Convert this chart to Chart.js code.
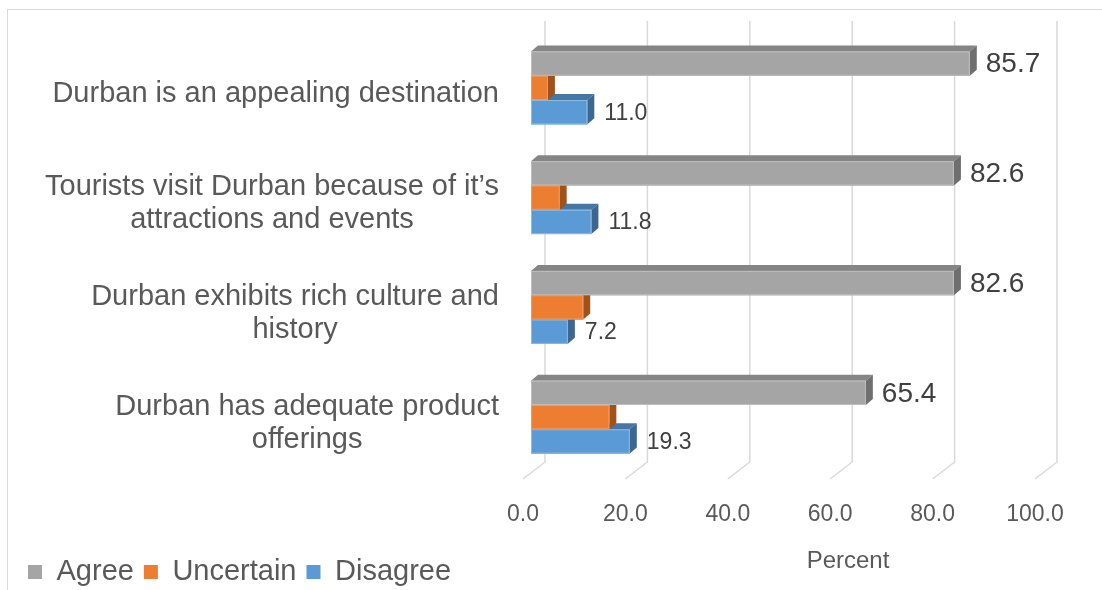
<!DOCTYPE html>
<html>
<head>
<meta charset="utf-8">
<title>Durban perceptions</title>
<script src="https://cdn.jsdelivr.net/npm/chart.js@4.4.1/dist/chart.umd.min.js"></script>
<style>
  html, body { margin: 0; padding: 0; background: #fff; }
  #wrap { position: relative; width: 1102px; height: 590px; }
</style>
</head>
<body>
<div id="wrap"><canvas id="survey" width="1102" height="590"></canvas></div>
<script>
// data
const categories = [
  ['Durban is an appealing destination'],
  ['Tourists visit Durban because of it\u2019s', 'attractions and events'],
  ['Durban exhibits rich culture and', 'history'],
  ['Durban has adequate product', 'offerings']
];
const agree = [85.7, 82.6, 82.6, 65.4];
const uncertain = [3.3, 5.6, 10.2, 15.3];
const disagree = [11.0, 11.8, 7.2, 19.3];
const xTicks = [0, 20, 40, 60, 80, 100];

const FONT = "Arial, 'Liberation Sans', sans-serif";
const DX = 7, DY = -6;   // depth of the 3d bars

// front / top / side colours per series
const faces = [
  {front: '#A5A5A5', top: '#858585', side: '#6F6F6F', edge: '#BEBEBE'},
  {front: '#ED7D31', top: '#B65F25', side: '#A0521D', edge: '#F29B60'},
  {front: '#5B9BD5', top: '#4676A4', side: '#3D6791', edge: '#8DB9E2'}
];

const threeD = {
  id: 'threeD',
  beforeDatasetsDraw(chart) {
    const ctx = chart.ctx, xs = chart.scales.x, ca = chart.chartArea;
    ctx.save();
    // outer border of the chart box
    ctx.strokeStyle = '#D9D9D9';
    ctx.lineWidth = 1;
    ctx.strokeRect(7.5, 9.5, 3000, 3000);
    // back wall + floor grid lines
    ctx.strokeStyle = '#D9D9D9';
    ctx.lineWidth = 1.5;
    xTicks.forEach(v => {
      const px = xs.getPixelForValue(v);
      ctx.beginPath();
      ctx.moveTo(px + 14, ca.top - 12);
      ctx.lineTo(px + 14, ca.bottom - 10);
      ctx.lineTo(px - 8, ca.bottom + 7);
      ctx.stroke();
    });
    ctx.restore();
  },
  afterDatasetsDraw(chart) {
    const ctx = chart.ctx;
    ctx.save();
    for (let i = 0; i < chart.data.labels.length; i++) {
      // bottom bar first so the one above hides its top face
      for (let d = 2; d >= 0; d--) {
        const bar = chart.getDatasetMeta(d).data[i];
        const p = bar.getProps(['x', 'y', 'base', 'height'], true);
        const c = faces[d];
        const x0 = p.base, x1 = p.x;
        const y0 = p.y - p.height / 2, y1 = p.y + p.height / 2;
        ctx.fillStyle = c.top;
        ctx.beginPath();
        ctx.moveTo(x0, y0);
        ctx.lineTo(x0 + DX, y0 + DY);
        ctx.lineTo(x1 + DX, y0 + DY);
        ctx.lineTo(x1, y0);
        ctx.closePath();
        ctx.fill();
        ctx.fillStyle = c.side;
        ctx.beginPath();
        ctx.moveTo(x1, y0);
        ctx.lineTo(x1 + DX, y0 + DY);
        ctx.lineTo(x1 + DX, y1 + DY);
        ctx.lineTo(x1, y1);
        ctx.closePath();
        ctx.fill();
        ctx.fillStyle = c.front;
        ctx.fillRect(x0, y0, x1 - x0, y1 - y0);
        ctx.strokeStyle = c.edge;
        ctx.lineWidth = 1;
        ctx.strokeRect(x0 + 0.5, y0 + 0.5, x1 - x0 - 1, y1 - y0 - 1);
      }
    }
    // value labels (agree + disagree only)
    ctx.fillStyle = '#404040';
    ctx.textBaseline = 'middle';
    ctx.textAlign = 'left';
    chart.getDatasetMeta(0).data.forEach((bar, i) => {
      ctx.font = '28px ' + FONT;
      ctx.fillText(agree[i].toFixed(1), bar.x + DX + 9, bar.y + 1);
    });
    chart.getDatasetMeta(2).data.forEach((bar, i) => {
      ctx.font = '23px ' + FONT;
      ctx.fillText(disagree[i].toFixed(1), bar.x + DX + 10, bar.y + 1);
    });
    ctx.restore();
  },
  afterDraw(chart) {
    const ctx = chart.ctx, ys = chart.scales.y;
    ctx.save();
    // category labels: lines centred on each other, block right aligned
    ctx.font = '29px ' + FONT;
    ctx.fillStyle = '#595959';
    ctx.textAlign = 'center';
    ctx.textBaseline = 'middle';
    const right = 499, lh = 33;
    categories.forEach((lines, i) => {
      const w = Math.max(...lines.map(s => ctx.measureText(s).width));
      const cx = right - w / 2;
      const cy = ys.getPixelForValue(i) + 6;
      lines.forEach((s, k) => {
        ctx.fillText(s, cx, cy + (k - (lines.length - 1) / 2) * lh);
      });
    });
    // axis title
    ctx.font = '24px ' + FONT;
    ctx.fillText('Percent', 848, 561);
    ctx.restore();
  },
  afterLayout(chart) {
    // legend sits low on the left edge
    const lg = chart.legend;
    if (lg) {
      lg.left = 18;
      lg.top = 572 - 10 - 14.5;
    }
  }
};

const ctx = document.getElementById('survey');

new Chart(ctx, {
  type: 'bar',
  data: {
    labels: categories,
    datasets: [
      {label: 'Agree', data: agree, backgroundColor: faces[0].front, borderWidth: 0},
      {label: 'Uncertain', data: uncertain, backgroundColor: faces[1].front, borderWidth: 0},
      {label: 'Disagree', data: disagree, backgroundColor: faces[2].front, borderWidth: 0}
    ]
  },
  options: {
    indexAxis: 'y',
    responsive: false,
    devicePixelRatio: 1,
    animation: false,
    datasets: {
      bar: {barPercentage: 1, categoryPercentage: 0.665}
    },
    layout: {padding: {top: 33, right: 59, bottom: 0, left: 0}},
    scales: {
      x: {
        min: 0,
        max: 100,
        afterBuildTicks: s => { s.ticks = xTicks.map(v => ({value: v})); },
        afterFit: s => {
          const lh = s.chart.legend ? s.chart.legend.height : 50;
          s.height = 590 - 472 - lh;
        },
        ticks: {
          callback: v => Number(v).toFixed(1),
          font: {size: 23, family: FONT},
          color: '#595959',
          labelOffset: -8,
          padding: 21
        },
        grid: {display: false},
        border: {display: false}
      },
      y: {
        afterFit: s => { s.width = 531; },
        ticks: {display: false},
        grid: {display: false},
        border: {display: false}
      }
    },
    plugins: {
      tooltip: {enabled: false},
      legend: {
        position: 'bottom',
        align: 'start',
        labels: {
          boxWidth: 14,
          boxHeight: 14,
          padding: 10,
          color: '#595959',
          font: {size: 29, family: FONT}
        }
      }
    }
  },
  plugins: [threeD]
});
</script>
</body>
</html>
